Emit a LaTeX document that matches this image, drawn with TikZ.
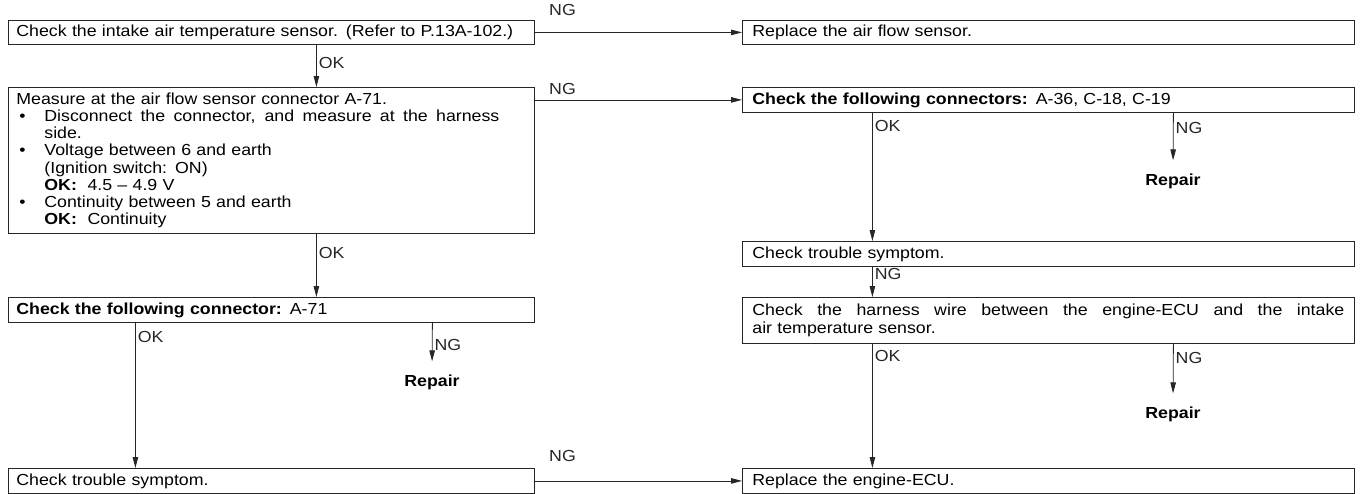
\documentclass[tikz,border=0pt]{standalone}
\usepackage{fontspec}
\setmainfont{Liberation Sans}[FakeStretch=1.11]
\usetikzlibrary{arrows.meta,positioning}

% bullet lines inside the measure box
\newcommand{\itemdot}{\makebox[28pt][l]{\hspace{3pt}\textbullet}}
\newcommand{\itemgap}{\hspace*{28pt}}

\begin{document}
\begin{tikzpicture}[
  x=1pt, y=-1pt,
  font=\fontsize{16pt}{17.2pt}\selectfont,
  every node/.style={execute at begin node={\spaceskip=0.33em plus 0.6em\relax}},
  % Node styles
  checkl/.style={rectangle, draw=black!85, line width=0.8pt, anchor=north west, inner xsep=8pt, inner ysep=3pt, text width=510pt, minimum height=25pt, align=left},
  checkr/.style={checkl, inner xsep=10pt, text width=592pt},
  repair/.style={font=\fontsize{16pt}{17.2pt}\selectfont\bfseries, inner sep=3pt},
  lbl/.style={inner sep=2pt},
  arr/.style={-{Triangle[length=11pt, width=5.5pt]}, line width=0.8pt, color=black!85}
]
  \useasboundingbox (0,0) rectangle (1362,493);

  % ============================================
  % LEFT COLUMN
  % ============================================
  \node[checkl, minimum height=24pt] (intake) at (8,20) {Check the intake air temperature sensor. (Refer to P.13A-102.)};

  \node[checkl, minimum height=146pt] (meas) at (8,87) {Measure at the air flow sensor connector A-71.\\
    \itemdot\makebox[455pt][s]{Disconnect the connector, and measure at the harness}\\
    \itemgap side.\\
    \itemdot Voltage between 6 and earth\\
    \itemgap (Ignition switch: ON)\\
    \itemgap \textbf{OK:}\ \ 4.5 – 4.9 V\\
    \itemdot Continuity between 5 and earth\\
    \itemgap \textbf{OK:}\ \ Continuity};

  \node[checkl] (conn) at (8,297) {\textbf{Check the following connector:} A-71};
  \node[repair] (repl) at (432,382) {Repair};
  \node[checkl] (troublel) at (8,468) {Check trouble symptom.};

  % ============================================
  % RIGHT COLUMN
  % ============================================
  \node[checkr, minimum height=24pt] (airflow) at (742,20) {Replace the air flow sensor.};
  \node[checkr] (conns) at (742,87) {\textbf{Check the following connectors:} A-36, C-18, C-19};
  \node[repair] (repr1) at (1173,181) {Repair};
  \node[checkr] (troubler) at (742,241) {Check trouble symptom.};
  \node[checkr, minimum height=46pt] (harness) at (742,297) {\makebox[592pt][s]{Check the harness wire between the engine-ECU and the intake}\\
    air temperature sensor.};
  \node[repair] (repr2) at (1173,414) {Repair};
  \node[checkr] (ecu) at (742,468) {Replace the engine-ECU.};

  % ============================================
  % Edges: NG to the right
  % ============================================
  \draw[arr] (intake.east) -- node[lbl, at start, anchor=south west, xshift=12pt, yshift=14pt] {NG} (airflow.west);
  \draw[arr] (meas.east |- conns.west) -- node[lbl, at start, anchor=south west, xshift=12pt, yshift=3pt] {NG} (conns.west);
  \draw[arr] (troublel.east) -- node[lbl, at start, anchor=south west, xshift=12pt, yshift=17pt] {NG} (ecu.west);

  % ============================================
  % Edges: left column
  % ============================================
  \draw[arr] ([xshift=45pt]intake.south) -- node[lbl, pos=0.42, anchor=west] {OK} ([xshift=45pt]meas.north);
  \draw[arr] ([xshift=45pt]meas.south) -- node[lbl, pos=0.3, anchor=west] {OK} ([xshift=45pt]conn.north);
  \draw[arr] ([xshift=-136pt]conn.south) -- node[lbl, pos=0.1, anchor=west] {OK} ([xshift=-136pt]troublel.north);
  \draw[arr, shorten >=10pt] ([xshift=161pt]conn.south) -- node[lbl, pos=0.45, anchor=west] {NG} (repl.north);

  % ============================================
  % Edges: right column
  % ============================================
  \draw[arr] ([xshift=-176pt]conns.south) -- node[lbl, pos=0.1, anchor=west] {OK} ([xshift=-176pt]troubler.north);
  \draw[arr, shorten >=10pt] ([xshift=125pt]conns.south) -- node[lbl, pos=0.27, anchor=west] {NG} (repr1.north);
  \draw[arr] ([xshift=-176pt]troubler.south) -- node[lbl, pos=0.25, anchor=west] {NG} ([xshift=-176pt]harness.north);
  \draw[arr] ([xshift=-176pt]harness.south) -- node[lbl, pos=0.1, anchor=west] {OK} ([xshift=-176pt]ecu.north);
  \draw[arr, shorten >=10pt] ([xshift=125pt]harness.south) -- node[lbl, pos=0.24, anchor=west] {NG} (repr2.north);

\end{tikzpicture}
\end{document}
